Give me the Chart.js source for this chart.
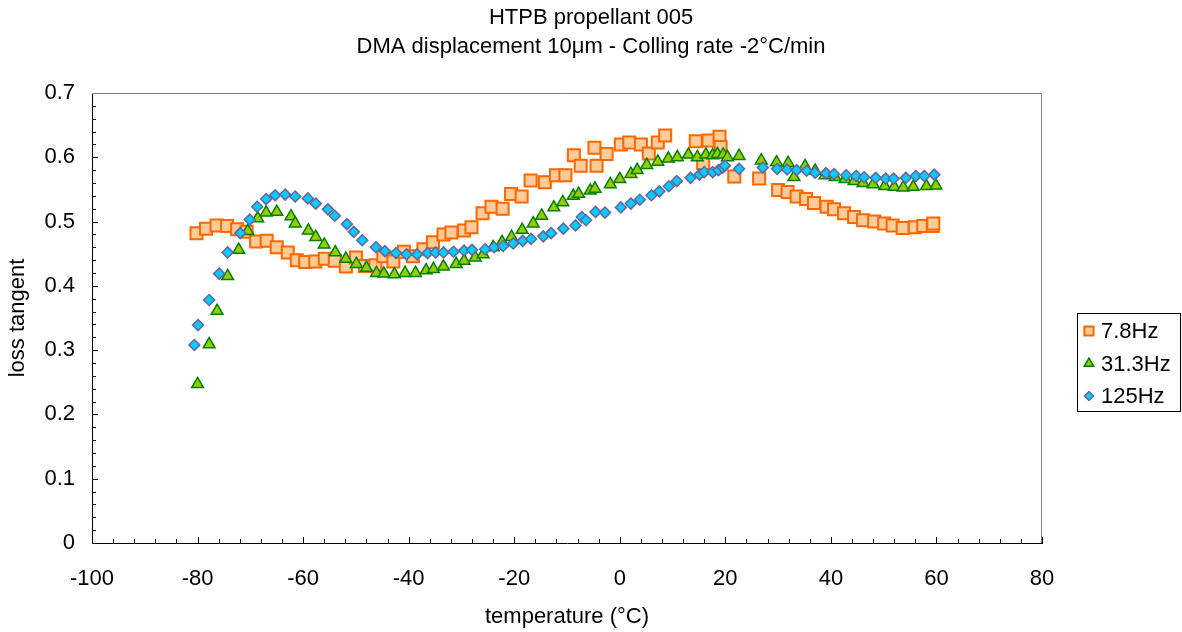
<!DOCTYPE html>
<html>
<head>
<meta charset="utf-8">
<script src="https://cdn.jsdelivr.net/npm/chart.js@4.4.1/dist/chart.umd.min.js"></script>
<style>
  body { margin: 0; background: #fff; }
</style>
</head>
<body>
<canvas id="myChart" width="1182" height="632"></canvas>
<script>
// 차트 제목, 축 제목
const titleLines = ['HTPB propellant 005', 'DMA displacement 10μm - Colling rate -2°C/min']
const xTitle = 'temperature (°C)'
const yTitle = 'loss tangent'

// 눈금 라벨
const xTicks = [-100, -80, -60, -40, -20, 0, 20, 40, 60, 80]
const yTicks = [0, 0.1, 0.2, 0.3, 0.4, 0.5, 0.6, 0.7]

const seriesNames = ['7.8Hz', '31.3Hz', '125Hz']

// 7.8Hz
const temp78 = [-80.2,-78.4,-76.4,-74.4,-72.5,-70.7,-68.9,-66.9,-65.0,-62.9,-61.2,-59.6,-57.7,-55.9,-54.0,-51.9,-50.0,-48.3,-46.3,-44.8,-42.9,-40.9,-39.2,-37.2,-35.4,-33.4,-31.9,-29.5,-28.1,-26.0,-24.3,-22.2,-20.6,-18.6,-16.9,-14.2,-12.1,-10.3,-8.7,-7.4,-4.8,-4.4,-2.5,0.2,1.8,4.0,5.5,7.2,8.6,14.4,15.8,16.8,18.9,19.1,21.7,26.4,30.0,31.8,33.5,35.3,36.8,39.2,40.6,42.5,44.4,46.1,48.2,50.1,51.7,53.6,55.9,57.5,59.3,59.4]
const tan78 = [0.482,0.489,0.494,0.493,0.488,0.484,0.469,0.470,0.460,0.452,0.440,0.437,0.438,0.442,0.439,0.430,0.444,0.431,0.432,0.446,0.438,0.453,0.446,0.457,0.468,0.480,0.483,0.486,0.491,0.513,0.523,0.520,0.543,0.539,0.564,0.561,0.572,0.572,0.603,0.587,0.615,0.587,0.605,0.620,0.623,0.620,0.606,0.623,0.634,0.625,0.591,0.626,0.632,0.616,0.570,0.567,0.549,0.546,0.539,0.535,0.529,0.523,0.519,0.513,0.507,0.502,0.500,0.497,0.494,0.490,0.491,0.493,0.493,0.497]

// 31.3Hz
const temp313 = [-80.0,-77.8,-76.3,-74.3,-72.2,-70.5,-68.6,-67.0,-65.0,-62.3,-61.5,-59.0,-57.6,-56.0,-53.9,-51.9,-49.9,-48.0,-46.1,-44.7,-42.7,-40.7,-38.7,-36.7,-35.3,-33.4,-31.0,-29.5,-27.4,-25.9,-24.0,-22.3,-20.5,-18.5,-16.4,-14.8,-12.5,-10.8,-8.8,-7.8,-5.6,-4.7,-1.8,0.0,2.1,3.3,5.1,7.2,9.2,10.9,13.0,14.7,16.3,17.6,18.5,19.6,20.4,22.6,26.8,29.7,31.9,33.0,35.1,37.0,38.9,40.8,42.7,44.4,46.1,48.0,50.2,52.0,53.7,55.6,58.1,59.9]
const tan313 = [0.247,0.309,0.361,0.415,0.456,0.485,0.505,0.514,0.515,0.508,0.497,0.486,0.476,0.464,0.452,0.442,0.434,0.428,0.420,0.419,0.418,0.420,0.420,0.424,0.426,0.430,0.434,0.439,0.444,0.449,0.460,0.468,0.476,0.487,0.497,0.509,0.522,0.530,0.540,0.543,0.548,0.551,0.558,0.566,0.574,0.580,0.588,0.593,0.598,0.600,0.604,0.600,0.604,0.603,0.605,0.604,0.600,0.602,0.595,0.592,0.591,0.569,0.586,0.579,0.572,0.569,0.566,0.563,0.560,0.558,0.555,0.554,0.553,0.554,0.555,0.556]

// 125Hz
const temp125 = [-80.6,-79.9,-77.8,-75.9,-74.3,-71.9,-70.1,-68.7,-67.0,-65.3,-63.4,-61.5,-59.1,-57.6,-55.3,-54.0,-51.7,-50.4,-48.8,-46.2,-44.5,-42.4,-40.4,-38.4,-36.4,-34.9,-33.4,-31.5,-29.5,-28.0,-25.5,-23.8,-22.1,-20.2,-18.4,-16.8,-14.5,-13.0,-10.7,-8.4,-7.2,-6.4,-4.6,-2.8,0.2,2.1,3.8,6.0,7.5,9.3,10.8,13.4,15.1,16.0,17.6,18.7,19.5,19.9,22.6,27.1,29.8,31.7,33.5,35.4,37.0,39.1,40.6,42.9,44.8,46.3,48.5,50.4,51.9,54.2,56.1,57.7,59.6]
const tan125 = [0.308,0.339,0.378,0.419,0.452,0.482,0.503,0.523,0.535,0.541,0.542,0.539,0.536,0.528,0.519,0.509,0.496,0.484,0.471,0.460,0.454,0.451,0.449,0.449,0.451,0.452,0.452,0.453,0.455,0.456,0.457,0.460,0.462,0.466,0.470,0.473,0.477,0.482,0.489,0.494,0.507,0.502,0.515,0.514,0.522,0.528,0.534,0.541,0.547,0.555,0.563,0.568,0.573,0.577,0.577,0.580,0.584,0.587,0.582,0.584,0.582,0.581,0.580,0.579,0.576,0.575,0.574,0.572,0.571,0.569,0.568,0.567,0.567,0.568,0.571,0.571,0.573]

const FONT = '"Liberation Sans", Arial, sans-serif'
const FSIZE = 22
const toPoints = (xs, ys) => xs.map((x, i) => ({x, y: ys[i]}))

// 안쪽으로 향하는 눈금 + 위/오른쪽 테두리
const innerTicks = {
    id: 'innerTicks',
    beforeDatasetsDraw(chart){
        const {ctx, chartArea: a, scales: {x, y}} = chart
        ctx.save()
        ctx.strokeStyle = '#000'
        ctx.lineWidth = 1
        ctx.beginPath()
        for(let k = 0; k <= 45; k++){
            const px = Math.round(x.getPixelForValue(-100 + k*4)) + 0.5
            const len = k % 5 === 0 ? 6 : 4
            ctx.moveTo(px, a.bottom)
            ctx.lineTo(px, a.bottom - len)
        }
        for(let k = 0; k <= 35; k++){
            const py = Math.round(y.getPixelForValue(k*0.02)) + 0.5
            const len = k % 5 === 0 ? 6 : 4
            ctx.moveTo(a.left, py)
            ctx.lineTo(a.left + len, py)
        }
        ctx.stroke()
        ctx.strokeStyle = '#808080'
        ctx.beginPath()
        ctx.moveTo(a.left, a.top + 0.5)
        ctx.lineTo(a.right - 0.5, a.top + 0.5)
        ctx.lineTo(a.right - 0.5, a.bottom)
        ctx.stroke()
        ctx.restore()
    }
}

// 테두리 있는 범례 (오른쪽)
const legendBox = {
    id: 'legendBox',
    afterDraw(chart){
        const ctx = chart.ctx
        ctx.save()
        ctx.strokeStyle = '#000'
        ctx.lineWidth = 1
        ctx.strokeRect(1077.5, 313.5, 103, 98)
        const radii = [6.5, 5.5, 4.5]
        chart.data.datasets.forEach((ds, i) => {
            const cy = 331 + i*32.5
            ctx.fillStyle = ds.backgroundColor
            ctx.strokeStyle = ds.borderColor
            ctx.lineWidth = ds.borderWidth
            Chart.helpers.drawPoint(ctx, {pointStyle: ds.pointStyle, radius: radii[i], borderWidth: ds.borderWidth, rotation: 0}, 1089, cy)
            ctx.fillStyle = '#000'
            ctx.font = `${FSIZE}px ${FONT}`
            ctx.textBaseline = 'middle'
            ctx.textAlign = 'left'
            ctx.fillText(ds.label, 1101, cy + 1)
        })
        ctx.restore()
    }
}

const ctx = document.getElementById('myChart')

new Chart(ctx, {
    type: 'scatter',
    data: {
        datasets: [{
            label: seriesNames[0],
            data: toPoints(temp78, tan78),
            pointStyle: 'rect',
            pointRadius: 8.5,
            backgroundColor: '#FFCC99',
            borderColor: '#FF6600',
            borderWidth: 2,
            order: 3
        }, {
            label: seriesNames[1],
            data: toPoints(temp313, tan313),
            pointStyle: 'triangle',
            pointRadius: 6.8,
            backgroundColor: '#99CC00',
            borderColor: '#008000',
            borderWidth: 1.5,
            order: 2
        }, {
            label: seriesNames[2],
            data: toPoints(temp125, tan125),
            pointStyle: 'rectRot',
            pointRadius: 5.5,
            backgroundColor: '#00CCFF',
            borderColor: '#666699',
            borderWidth: 1.5,
            order: 1
        }]
    },
    options: {
        responsive: false,
        animation: false,
        layout: { padding: 0 },
        scales: {
            x: {
                type: 'linear',
                min: -100,
                max: 80,
                afterBuildTicks: s => { s.ticks = xTicks.map(v => ({value: v})) },
                afterFit: s => { s.height = 89 },
                grid: { display: false, drawTicks: false },
                border: { display: true, color: '#000', width: 1 },
                ticks: { padding: 22.8, color: '#000', font: { family: FONT, size: FSIZE }, maxRotation: 0, autoSkip: false },
                title: { display: true, text: xTitle, color: '#000', font: { family: FONT, size: FSIZE }, padding: { top: 0, bottom: 1.8 } }
            },
            y: {
                min: 0,
                max: 0.7,
                afterBuildTicks: s => { s.ticks = yTicks.map(v => ({value: v})) },
                afterFit: s => { s.width = 92 },
                grid: { display: false, drawTicks: false },
                border: { display: true, color: '#000', width: 1 },
                ticks: { padding: 17, color: '#000', font: { family: FONT, size: FSIZE }, callback: v => String(v) },
                title: { display: true, text: yTitle, color: '#000', font: { family: FONT, size: FSIZE }, padding: { top: 4.8, bottom: 0 } }
            },
            // 범례 자리 (오른쪽 빈 칸)
            legendSpace: {
                position: 'right',
                afterFit: s => { s.width = 140 },
                grid: { display: false, drawTicks: false },
                border: { display: false },
                ticks: { display: false }
            }
        },
        plugins: {
            legend: { display: false },
            tooltip: { enabled: false },
            title: {
                display: true,
                text: titleLines,
                color: '#000',
                font: { family: FONT, size: FSIZE, weight: 'normal', lineHeight: 29/22 },
                padding: { top: 3.5, bottom: 31.5 }
            }
        }
    },
    plugins: [innerTicks, legendBox]
})
</script>
</body>
</html>
